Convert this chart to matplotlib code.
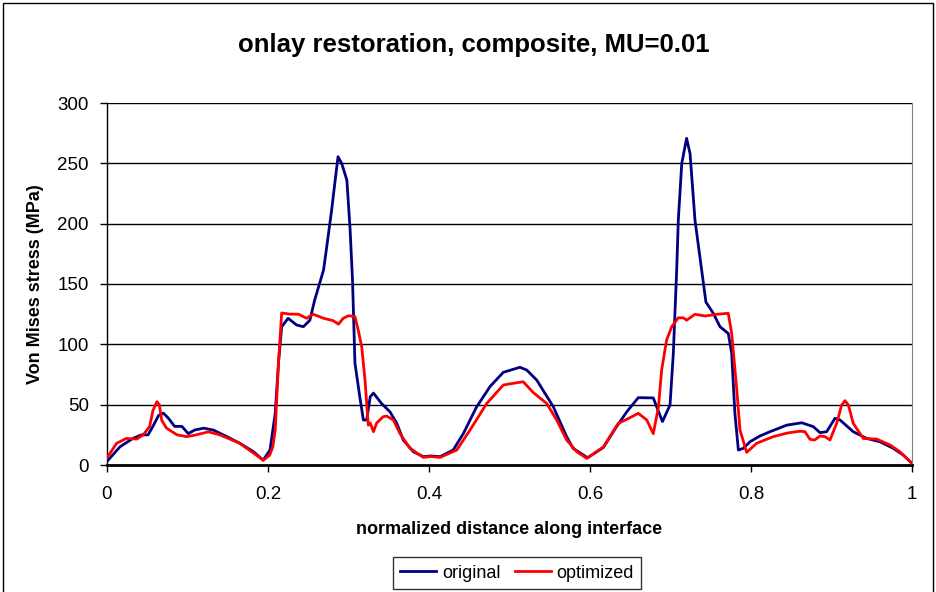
import matplotlib
matplotlib.use("Agg")
import matplotlib.pyplot as plt
from matplotlib.patches import Rectangle

# data
orig_x = [0.0, 0.016, 0.032, 0.043, 0.051, 0.057, 0.064, 0.070, 0.076, 0.084, 0.093, 0.101,
          0.109, 0.120, 0.132, 0.149, 0.165, 0.182, 0.194, 0.2025, 0.209, 0.213, 0.217, 0.225,
          0.2356, 0.244, 0.252, 0.258, 0.269, 0.273, 0.279, 0.283, 0.287, 0.2915, 0.298, 0.302,
          0.305, 0.308, 0.314, 0.3185, 0.3226, 0.327, 0.331, 0.341, 0.3516, 0.36, 0.368, 0.3806,
          0.393, 0.402, 0.4137, 0.43, 0.4426, 0.459, 0.4758, 0.4923, 0.513, 0.5214, 0.5338,
          0.5544, 0.571, 0.579, 0.597, 0.6166, 0.633, 0.6456, 0.66, 0.6786, 0.6828, 0.690,
          0.6994, 0.7035, 0.7077, 0.7097, 0.714, 0.720, 0.7243, 0.7304, 0.7387, 0.744, 0.7532,
          0.7615, 0.7718, 0.776, 0.780, 0.7843, 0.7904, 0.7988, 0.811, 0.8236, 0.8443, 0.863,
          0.8774, 0.8857, 0.894, 0.9043, 0.9106, 0.927, 0.9437, 0.960, 0.9768, 0.989, 1.0]
orig_y = [3, 15, 22, 25, 25, 32, 41, 43, 39, 32, 32, 26,
          29, 30.5, 29, 23.5, 18, 11, 4, 12.4, 43, 84.5, 114.6, 121.6,
          116, 114.6, 120, 136.7, 161.6, 181, 211, 233.5, 255.5, 250, 236, 195,
          153, 84.5, 56.6, 37.3, 37.3, 56.6, 59.6, 51, 44, 34.5, 20.7, 11,
          6.9, 7.5, 6.9, 12.4, 26, 48, 65, 76.8, 81, 78.7, 70.4,
          48.3, 23.5, 13.8, 6, 14.5, 31.8, 44, 55.8, 55.6, 48.3, 36,
          49.7, 92.6, 161.6, 203, 250, 270.7, 258, 203, 161.6, 135, 125.7,
          114.6, 109, 92.6, 42.8, 12.4, 13.8, 19.3, 24, 27.6, 33, 35,
          31.8, 26.8, 27.6, 38.7, 37.3, 27.6, 22, 19.3, 13.8, 8.3, 1.4]

opt_x = [0.0, 0.012, 0.024, 0.037, 0.045, 0.053, 0.057, 0.062, 0.065, 0.068, 0.074, 0.087,
         0.099, 0.111, 0.126, 0.140, 0.165, 0.190, 0.194, 0.202, 0.206, 0.209, 0.213, 0.217,
         0.227, 0.2377, 0.248, 0.256, 0.269, 0.281, 0.2875, 0.2935, 0.2998, 0.308, 0.312,
         0.3164, 0.3205, 0.3246, 0.327, 0.331, 0.335, 0.343, 0.3474, 0.3557, 0.364, 0.3764,
         0.393, 0.4025, 0.4137, 0.4344, 0.451, 0.4717, 0.4923, 0.5047, 0.517, 0.5296, 0.5462,
         0.5586, 0.571, 0.5835, 0.596, 0.6166, 0.635, 0.6456, 0.660, 0.6705, 0.6786, 0.685,
         0.689, 0.6952, 0.7015, 0.7097, 0.716, 0.720, 0.7304, 0.743, 0.7574, 0.7718, 0.776,
         0.782, 0.7863, 0.7946, 0.807, 0.8277, 0.845, 0.861, 0.867, 0.8733, 0.879, 0.8857,
         0.892, 0.8981, 0.9064, 0.9126, 0.9168, 0.921, 0.927, 0.9395, 0.956, 0.9727, 0.985, 1.0]
opt_y = [6, 18, 22, 21.5, 25, 32, 45, 52.5, 50, 37, 30.5, 25,
         23.5, 25, 27.5, 25, 18, 6, 4, 8, 15, 29, 84.5, 126,
         125, 125, 121.6, 125, 121.6, 119.6, 116.7, 121.6, 123.7, 123, 112,
         98, 70.4, 33, 34.8, 27.6, 34.8, 40, 40.6, 37.3, 26, 13.8,
         6.3, 7, 6.3, 12.4, 29, 51, 66.3, 67.7, 69, 60, 51,
         37.3, 20.7, 11, 5.5, 15, 34.5, 37.8, 42.8, 37.3, 26, 48,
         78.7, 103.6, 114.6, 122, 122, 120, 124.9, 123.5, 124.9, 125.7, 109,
         65, 29, 10.5, 18, 23.5, 26.5, 28, 27.6, 21.3, 20.7, 24,
         23.5, 20.7, 34.5, 49.7, 53.3, 49.7, 34.5, 22, 21.5, 16.6, 11, 1.4]

x_ticks = [0, 0.2, 0.4, 0.6, 0.8, 1]
x_tick_labels = ["0", "0.2", "0.4", "0.6", "0.8", "1"]
y_ticks = [0, 50, 100, 150, 200, 250, 300]

plt.rcParams["font.family"] = ["Liberation Sans", "DejaVu Sans"]

fig = plt.figure(figsize=(9.36, 5.92), dpi=100)
ax = fig.add_axes([107 / 936, 1 - 465 / 592, 805 / 936, 362 / 592])

for y in y_ticks[1:]:
    ax.axhline(y, color="black", linewidth=1.0, zorder=1)

ax.plot(orig_x, orig_y, color="#000080", linewidth=2.0, label="original", zorder=3)
ax.plot(opt_x, opt_y, color="#ff0000", linewidth=2.0, label="optimized", zorder=3)

ax.set_xlim(0, 1)
ax.set_ylim(0, 300)
ax.set_xticks(x_ticks)
ax.set_xticklabels(x_tick_labels)
ax.set_yticks(y_ticks)
ax.tick_params(axis="both", direction="out", length=5, width=1, labelsize=13.5, colors="black")
ax.tick_params(axis="x", pad=10)
ax.tick_params(axis="y", pad=8)

ax.spines["top"].set_visible(False)
ax.spines["right"].set_color("#808080")
ax.spines["left"].set_linewidth(1.0)
ax.spines["bottom"].set_linewidth(2.0)

ax.set_xlabel("normalized distance along interface", fontsize=13, fontweight="bold", labelpad=13)
ax.set_ylabel("Von Mises stress (MPa)", fontsize=13, fontweight="bold", labelpad=10)

fig.text(474 / 936, 1 - 45 / 592, "onlay restoration, composite, MU=0.01",
         fontsize=18.5, fontweight="bold", ha="center", va="center")

# legend box at the bottom
leg = fig.legend(loc="center", bbox_to_anchor=(517 / 936, 1 - 573 / 592), ncol=2,
                 fontsize=13, frameon=True, fancybox=False, edgecolor="black",
                 handlelength=2.0, columnspacing=0.8, handletextpad=0.3,
                 borderpad=0.4)
leg.get_frame().set_linewidth(1.0)

# outer chart border
fig.patches.append(Rectangle((3 / 936, -0.05), 930 / 936, 1.05 - 3 / 592,
                             transform=fig.transFigure, fill=False,
                             edgecolor="black", linewidth=1.0))

fig.savefig("out.png", dpi=100)
